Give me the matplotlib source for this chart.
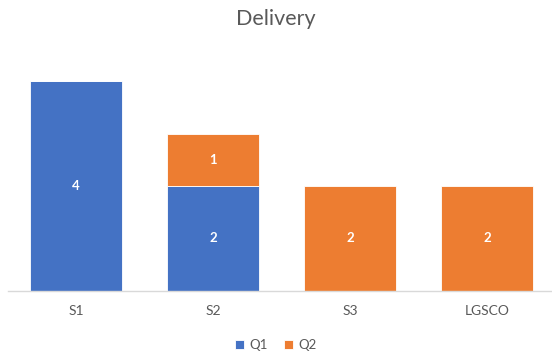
import numpy as np
import matplotlib
matplotlib.use("Agg")
import matplotlib.pyplot as plt

categories = ["S1", "S2", "S3", "LGSCO"]
q1 = [4, 2, 0, 0]
q2 = [0, 1, 2, 2]

BLUE = "#4472C4"
ORANGE = "#ED7D31"
GREY = "#595959"

plt.rcParams["font.family"] = ["Lato", "DejaVu Sans"]

fig = plt.figure(figsize=(5.52, 3.56), dpi=100)
ax = fig.add_axes([7.5 / 552, 65 / 356, 548 / 552, 236.25 / 356])

x = np.arange(len(categories))
w = 0.67
b1 = ax.bar(x, q1, w, color=BLUE, edgecolor="white", linewidth=0.6, label="Q1")
b2 = ax.bar(x, q2, w, bottom=q1, color=ORANGE, edgecolor="white", linewidth=0.6, label="Q2")

for bars, vals, base in [(b1, q1, [0] * 4), (b2, q2, q1)]:
    for rect, v, b in zip(bars, vals, base):
        if v:
            ax.text(rect.get_x() + rect.get_width() / 2, b + v / 2, str(v),
                    ha="center", va="center", color="white", fontsize=9.5, fontweight="bold")

ax.set_xlim(-0.5, 3.5)
ax.set_ylim(0, 4.5)
ax.set_xticks(x)
ax.set_xticklabels(categories, color=GREY, fontsize=10)
ax.tick_params(axis="x", length=0, pad=10)
ax.set_yticks([])
for s in ["top", "right", "left"]:
    ax.spines[s].set_visible(False)
ax.spines["bottom"].set_color("#D9D9D9")
ax.spines["bottom"].set_linewidth(1)

fig.text(0.5, 1 - 19 / 356, "Delivery", ha="center", va="center", fontsize=15.5, color=GREY)
fig.legend(loc="center", bbox_to_anchor=(0.5, 1 - 345 / 356), ncol=2, frameon=False,
           handlelength=0.7, handleheight=0.7, handletextpad=0.4, columnspacing=1.2,
           fontsize=9.5, labelcolor=GREY)

fig.savefig("out.png", dpi=100)
